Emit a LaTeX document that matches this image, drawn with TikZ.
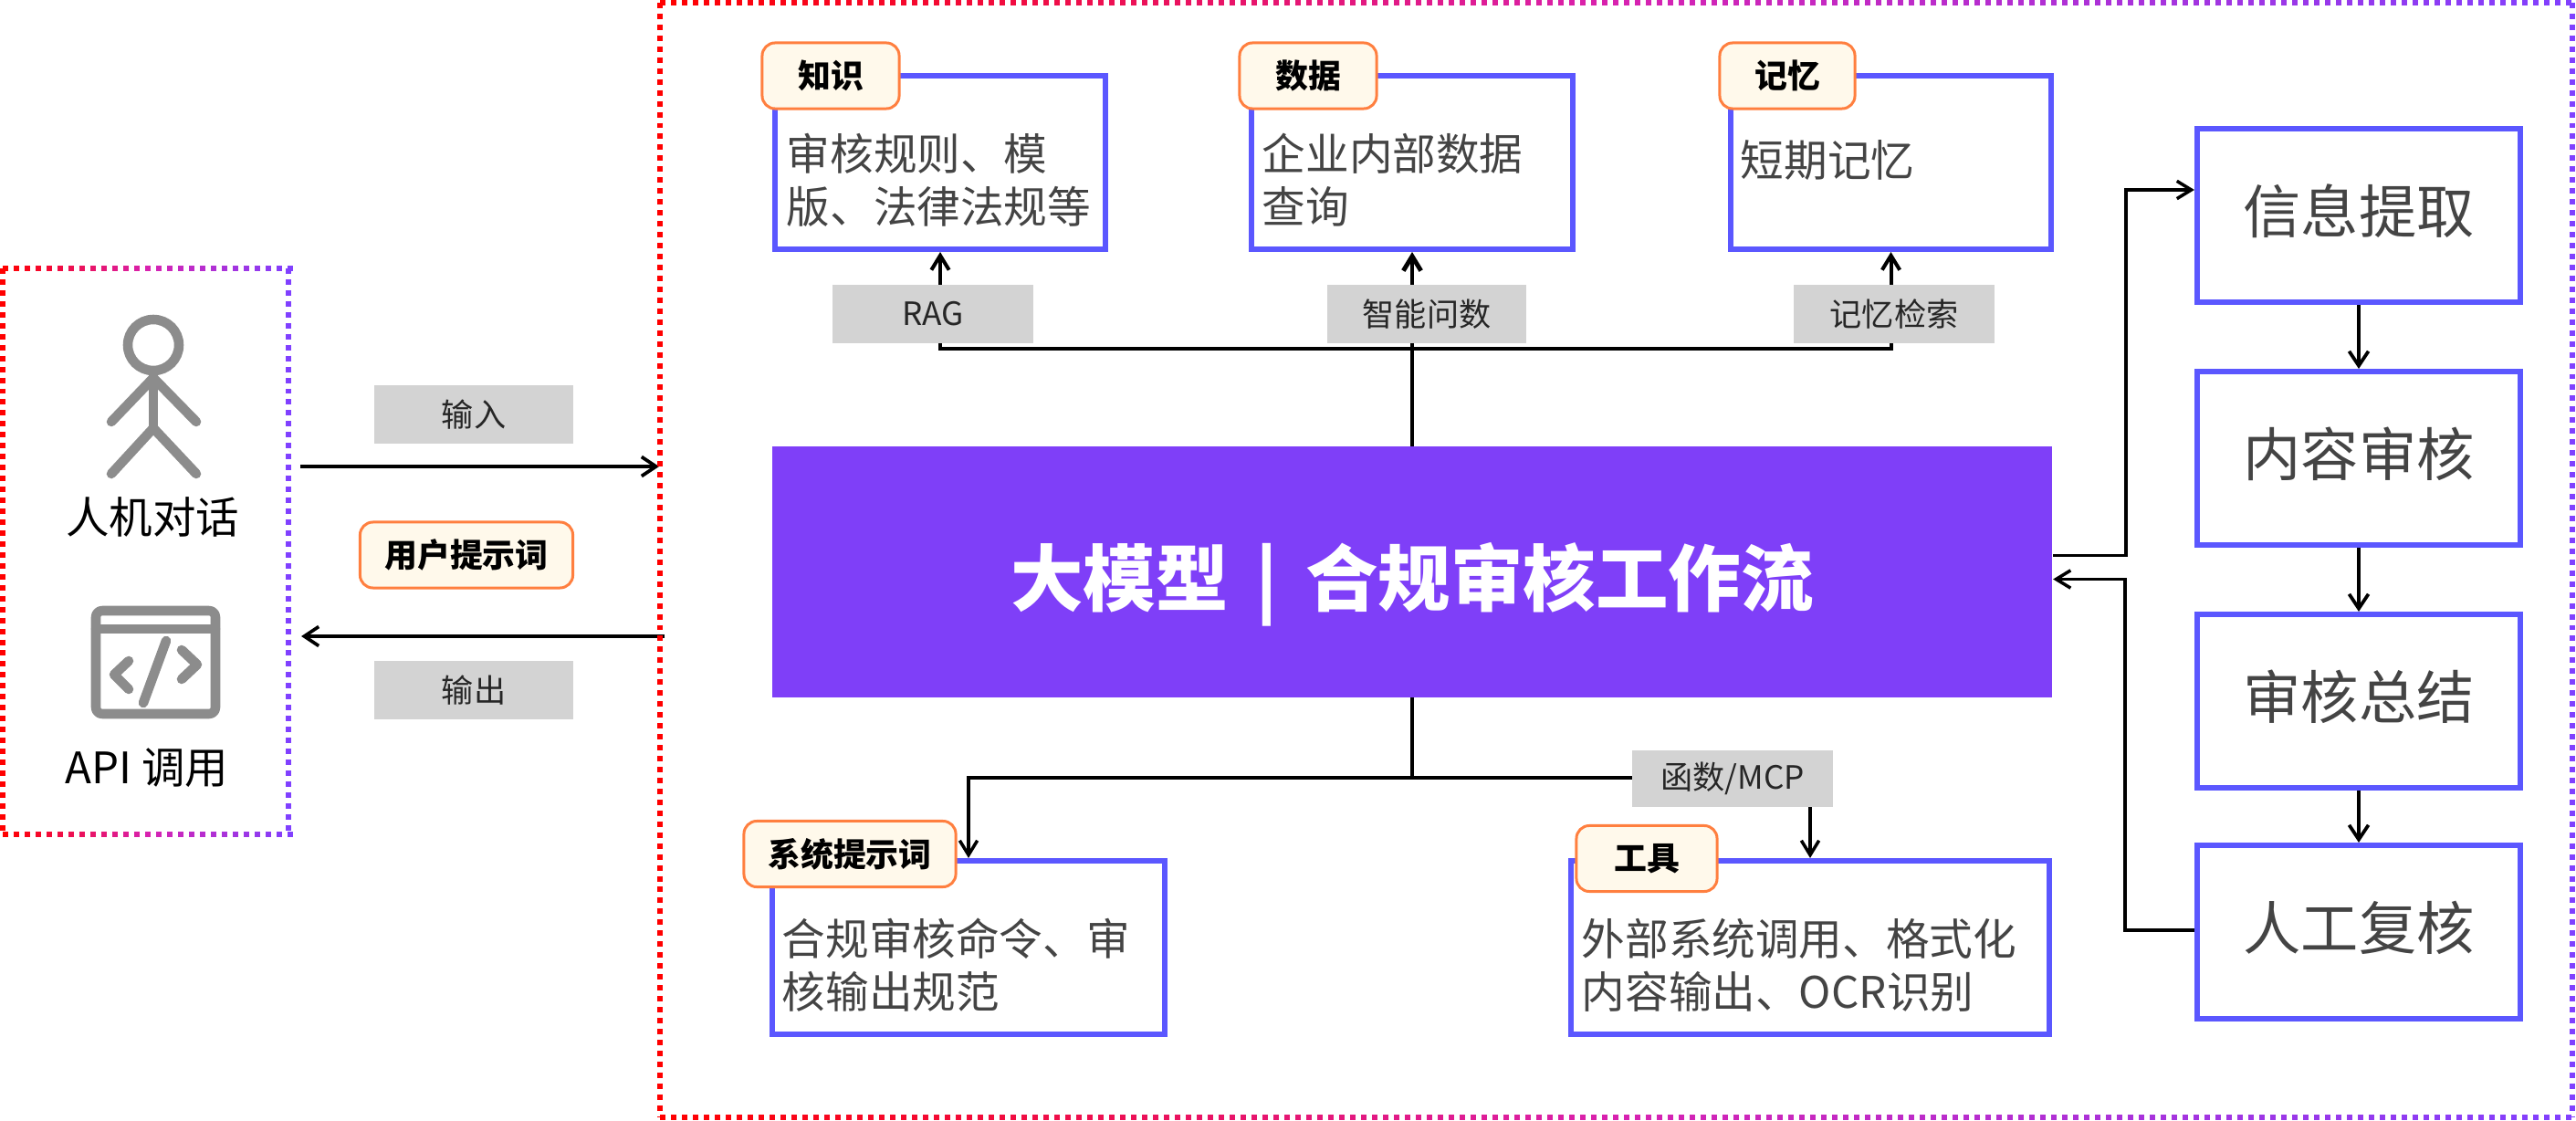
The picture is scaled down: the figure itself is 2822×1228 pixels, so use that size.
\documentclass[tikz,border=0pt]{standalone}
\usepackage{xcolor}
\usepackage{fontspec}
\setmainfont{Noto Sans CJK SC}
\usepackage{tikz}
\usetikzlibrary{arrows.meta, calc, backgrounds}

\definecolor{gradred}{HTML}{FF0000}
\definecolor{gradmid}{HTML}{D822B0}
\definecolor{gradend}{HTML}{8040FF}
\definecolor{boxblue}{HTML}{5B57FF}
\definecolor{mainpurple}{HTML}{7F3FF8}
\definecolor{tagorange}{HTML}{FF7F3F}
\definecolor{tagfill}{HTML}{FFF9EB}
\definecolor{labelgrey}{HTML}{D3D3D3}
\definecolor{bodygrey}{HTML}{444444}
\definecolor{icongrey}{HTML}{8C8C8C}

% dotted frame, red on the left running to purple on the right
\newcommand{\gradframe}[4]{%
    \pgfmathtruncatemacro{\dotcount}{(#3-#1)/12}
    \foreach \i in {0,...,\dotcount}{
        \pgfmathsetmacro{\px}{#1+12*\i}
        \pgfmathsetmacro{\pfrac}{(\px-#1)/(#3-#1)}
        \ifdim\pfrac pt<0.5pt
            \pgfmathsetmacro{\pct}{\pfrac*200}
            \colorlet{dotcol}{gradmid!\pct!gradred}
        \else
            \pgfmathsetmacro{\pct}{(\pfrac-0.5)*200}
            \colorlet{dotcol}{gradend!\pct!gradmid}
        \fi
        \draw[dotcol, line width=1.7pt] (\px,#2) -- ++(6,0);
        \draw[dotcol, line width=1.7pt] (\px,#4) -- ++(6,0);
    }
    \draw[gradred, line width=1.7pt, dash pattern=on 1.7pt off 1.7pt] (#1,#2) -- (#1,#4);
    \draw[gradend, line width=1.7pt, dash pattern=on 1.7pt off 1.7pt] (#3,#2) -- (#3,#4);
}

\begin{document}
\begin{tikzpicture}[x=0.01cm, y=-0.01cm]
    % Define styles
    \tikzstyle{mainbox} = [rectangle, fill=mainpurple, text=white, font=\fontsize{22.6}{26}\selectfont\bfseries, text height=22pt, text depth=0.8pt, minimum width=14.02cm, minimum height=2.74cm]
    \tikzstyle{infobox} = [rectangle, draw=boxblue, line width=1.7pt]
    \tikzstyle{stepbox} = [rectangle, draw=boxblue, line width=1.7pt, text=bodygrey, font=\fontsize{18}{22}\selectfont, text height=14pt, text depth=2.9pt, minimum width=3.54cm]
    \tikzstyle{tagbox} = [rectangle, rounded corners=4pt, draw=tagorange, fill=tagfill, line width=0.85pt, font=\fontsize{10.2}{12}\selectfont\bfseries, minimum height=0.72cm]
    \tikzstyle{greylabel} = [rectangle, fill=labelgrey, text=black!85, font=\fontsize{10}{12}\selectfont, minimum height=0.64cm]
    \tikzstyle{bodytext} = [anchor=west, align=left, inner sep=0pt, text=bodygrey, font=\fontsize{13.55}{16.5}\selectfont]
    \tikzstyle{actortext} = [inner sep=0pt, text=black, font=\fontsize{13.5}{16}\selectfont]
    \tikzstyle{icon} = [icongrey, line width=3pt, line cap=round, line join=round]
    \tikzstyle{flow} = [black, line width=1pt]
    \tikzstyle{flowto} = [black, line width=1pt, -{Straight Barb[length=4.5pt,width=5.5pt]}]
    \tikzstyle{busto} = [black, line width=1.14pt, -{Straight Barb[length=4.5pt,width=5.5pt]}]
    \tikzstyle{bigflow} = [black, line width=1.05pt, -{Straight Barb[length=4.5pt,width=6pt]}]

    \useasboundingbox (0,0) rectangle (2822,1228);

    % Frames
    \gradframe{3}{294}{316}{914}
    \gradframe{723}{3}{2818}{1224}

    % Person icon
    \draw[icon] (168,378) circle (28);
    \draw[icon] (168,411) -- (168,469);
    \draw[icon] (122,462) -- (168,414) -- (215,462);
    \draw[icon] (122,519) -- (168,469) -- (215,519);
    \node[actortext] (chat) at (167,566) {人机对话};

    % Code icon
    \draw[icon, rounded corners=2pt] (105,669) rectangle (236,782);
    \draw[icon] (105,689) -- (236,689);
    \draw[icon] (141,724) -- (125,739) -- (141,755);
    \draw[icon] (199,712) -- (216,728) -- (199,744);
    \draw[icon] (182,702) -- (157,770);
    \node[actortext] (api) at (161,841) {API 调用};

    % Input and output
    \node[greylabel, minimum width=2.18cm] (inLabel) at (519,454) {输入};
    \node[tagbox, minimum width=2.33cm] (userTag) at (511,608) {用户提示词};
    \node[greylabel, minimum width=2.18cm] (outLabel) at (519,756) {输出};
    \coordinate (inStart) at (329,511);
    \coordinate (inEnd) at (722,511);
    \coordinate (outStart) at (728,697);
    \coordinate (outEnd) at (330,697);

    % Main block
    \node[mainbox] (main) at (1547,626.5) {大模型\hspace{8.5pt}|\hspace{8.5pt}合规审核工作流};

    % Top boxes
    \node[infobox, minimum width=3.62cm, minimum height=1.90cm] (know) at (1030,178) {};
    \node[infobox, minimum width=3.52cm, minimum height=1.90cm] (data) at (1547,178) {};
    \node[infobox, minimum width=3.51cm, minimum height=1.90cm] (memory) at (2071.5,178) {};
    \node[bodytext] (knowText) at (861,197) {审核规则、模\\版、法律法规等};
    \node[bodytext] (dataText) at (1382,197) {企业内部数据\\查询};
    \node[bodytext] (memoryText) at (1906,175) {短期记忆};
    \node[tagbox, minimum width=1.50cm] (knowTag) at (910,83) {知识};
    \node[tagbox, minimum width=1.50cm] (dataTag) at (1433,83) {数据};
    \node[tagbox, minimum width=1.48cm] (memoryTag) at (1958,83) {记忆};
    \node[greylabel, minimum width=2.20cm] (ragLabel) at (1022,344) {RAG};
    \node[greylabel, minimum width=2.18cm] (askLabel) at (1563,344) {智能问数};
    \node[greylabel, minimum width=2.20cm] (recallLabel) at (2075,344) {记忆检索};

    % Bottom boxes
    \node[infobox, minimum width=4.30cm, minimum height=1.90cm] (prompt) at (1061,1038) {};
    \node[infobox, minimum width=5.24cm, minimum height=1.90cm] (tools) at (1983,1038) {};
    \node[bodytext] (promptText) at (856,1057) {合规审核命令、审\\核输出规范};
    \node[bodytext] (toolsText) at (1732,1057) {外部系统调用、格式化\\内容输出、OCR识别};
    \node[tagbox, minimum width=2.32cm] (promptTag) at (931,935.5) {系统提示词};
    \node[tagbox, minimum width=1.54cm] (toolsTag) at (1804,940.5) {工具\hspace{3pt}};
    \node[greylabel, minimum width=2.20cm, minimum height=0.62cm] (mcpLabel) at (1898,853) {函数/MCP};

    % Workflow steps
    \node[stepbox, minimum height=1.90cm] (extract) at (2584,236) {信息提取};
    \node[stepbox, minimum height=1.90cm] (audit) at (2584,502) {内容审核};
    \node[stepbox, minimum height=1.90cm] (summary) at (2584,768) {审核总结};
    \node[stepbox, minimum height=1.90cm] (review) at (2584,1021) {人工复核};

    \coordinate (topBus) at (1547,382);
    \coordinate (bottomBus) at (1547,852);

    % Connectors
    \begin{scope}[on background layer]
        \draw[bigflow] (inStart) -- (inEnd);
        \draw[bigflow] (outStart) -- (outEnd);
        \draw[busto, line width=1.4pt] (main.north) -- (data.south);
        \draw[busto] (topBus) -| (know.south);
        \draw[busto] (topBus) -| (memory.south);
        \draw[flow] (main.south) -- (bottomBus);
        \draw[flowto] (bottomBus) -| (prompt.north);
        \draw[flowto] (bottomBus) -| (tools.north);
        \draw[flowto] ($(main.east)+(0,-18)$) -- ++(80,0) |- ($(extract.west)+(0,-28)$);
        \draw[flowto] ($(review.west)+(0,-2)$) -- ++(-76,0) |- ($(main.east)+(0,8)$);
        \draw[bigflow] (extract.south) -- (audit.north);
        \draw[bigflow] (audit.south) -- (summary.north);
        \draw[bigflow] (summary.south) -- (review.north);
    \end{scope}
\end{tikzpicture}
\end{document}
